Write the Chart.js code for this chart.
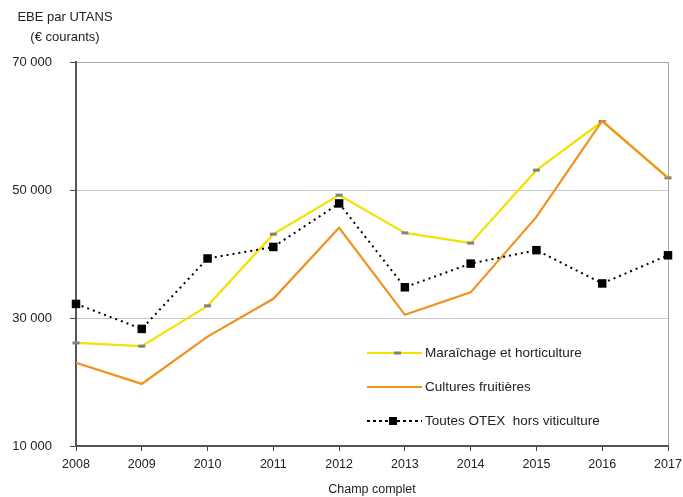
<!DOCTYPE html>
<html>
<head>
<meta charset="utf-8">
<script src="https://cdn.jsdelivr.net/npm/chart.js@4/dist/chart.umd.min.js"></script>
<style>
  html, body { margin: 0; padding: 0; background: #fff; }
  #wrap { width: 683px; height: 497px; }
</style>
</head>
<body>
<div id="wrap"><canvas id="graphique"></canvas></div>
<script>
// ─── Données ──────────────────────────────────────────────────────
const annees = ['2008', '2009', '2010', '2011', '2012', '2013', '2014', '2015', '2016', '2017']
const maraichage = [26100, 25600, 31900, 43100, 49200, 43300, 41700, 53100, 60700, 51900]
const fruitieres = [23000, 19700, 27100, 33000, 44100, 30500, 34000, 45800, 60800, 51900]
const toutesOtex = [32200, 28300, 39300, 41100, 47900, 34800, 38500, 40600, 35400, 39800]
const ticksY = [10000, 30000, 50000, 70000]

const JAUNE = '#f2e200'
const ORANGE = '#f0921e'
const POLICE = 'Liberation Sans, Arial, sans-serif'

const fmt = v => String(v).replace(/\B(?=(\d{3})+(?!\d))/g, ' ')

// ─── Titre + légende dessinés à la main ───────────────────────────
const decor = {
    id: 'decor',
    afterDraw(chart) {
        const ctx = chart.ctx
        ctx.save()
        ctx.fillStyle = '#222'
        ctx.font = '13px ' + POLICE
        ctx.textAlign = 'center'
        ctx.textBaseline = 'middle'
        ctx.fillText('EBE par UTANS', 65, 17)
        ctx.fillText('(€ courants)', 65, 37)

        // légende
        const x0 = 367, x1 = 422
        const lignes = [
            { y: 353, texte: 'Maraîchage et horticulture' },
            { y: 387, texte: 'Cultures fruitières' },
            { y: 421, texte: 'Toutes OTEX  hors viticulture' }
        ]
        // 1. maraîchage
        ctx.strokeStyle = JAUNE
        ctx.lineWidth = 2.2
        ctx.beginPath(); ctx.moveTo(x0, lignes[0].y); ctx.lineTo(x1, lignes[0].y); ctx.stroke()
        ctx.fillStyle = '#808080'
        ctx.fillRect(394, lignes[0].y - 1.5, 7, 3)
        // 2. fruitières
        ctx.strokeStyle = ORANGE
        ctx.beginPath(); ctx.moveTo(x0, lignes[1].y); ctx.lineTo(x1, lignes[1].y); ctx.stroke()
        // 3. toutes OTEX
        ctx.strokeStyle = '#000'
        ctx.lineWidth = 2
        ctx.setLineDash([3, 3])
        ctx.beginPath(); ctx.moveTo(x0, lignes[2].y); ctx.lineTo(x1, lignes[2].y); ctx.stroke()
        ctx.setLineDash([])
        ctx.fillStyle = '#000'
        ctx.fillRect(389, lignes[2].y - 4, 8, 8)

        ctx.fillStyle = '#222'
        ctx.font = '13.5px ' + POLICE
        ctx.textAlign = 'left'
        lignes.forEach(l => ctx.fillText(l.texte, 425, l.y))
        ctx.restore()
    }
}

new Chart(document.getElementById('graphique'), {
    type: 'line',
    data: {
        labels: annees,
        datasets: [
            {
                label: 'Maraîchage et horticulture',
                data: maraichage,
                borderColor: JAUNE,
                borderWidth: 2.2,
                pointStyle: 'line',
                pointRadius: 3.5,
                pointBorderWidth: 3,
                pointBorderColor: '#808080',
                pointBackgroundColor: '#808080',
                tension: 0,
                order: 2
            },
            {
                label: 'Cultures fruitières',
                data: fruitieres,
                borderColor: ORANGE,
                borderWidth: 2.2,
                pointRadius: 0,
                tension: 0,
                order: 1
            },
            {
                label: 'Toutes OTEX hors viticulture',
                data: toutesOtex,
                borderColor: '#000',
                borderWidth: 2,
                borderDash: [2, 4],
                pointStyle: 'rect',
                pointRadius: 6,
                pointBackgroundColor: '#000',
                pointBorderColor: '#000',
                pointBorderWidth: 0,
                tension: 0,
                order: 0
            }
        ]
    },
    options: {
        responsive: true,
        maintainAspectRatio: false,
        animation: false,
        events: [],
        layout: { padding: { left: 0, right: 15, top: 62, bottom: 0 } },
        plugins: {
            legend: { display: false },
            tooltip: { enabled: false }
        },
        scales: {
            x: {
                offset: false,
                afterFit(scale) {
                    scale.height = 51
                    scale.paddingLeft = 0
                    scale.paddingRight = 0
                },
                grid: {
                    color: c => c.index === annees.length - 1 ? '#a6a6a6' : 'rgba(0,0,0,0)',
                    tickColor: '#444',
                    tickLength: 5,
                    lineWidth: 1
                },
                border: { color: '#555', width: 2 },
                ticks: {
                    color: '#222',
                    font: { family: POLICE, size: 12.5 },
                    padding: 6,
                    maxRotation: 0,
                    autoSkip: false
                },
                title: {
                    display: true,
                    text: 'Champ complet',
                    color: '#222',
                    font: { family: POLICE, size: 12.5 },
                    padding: { top: 4, bottom: 0 }
                }
            },
            y: {
                min: ticksY[0],
                max: ticksY[ticksY.length - 1],
                afterFit(scale) { scale.width = 76 },
                afterBuildTicks(scale) { scale.ticks = ticksY.map(v => ({ value: v })) },
                grid: {
                    color: c => {
                        const v = c.tick && c.tick.value
                        if (v === 30000 || v === 50000) return '#c8c8c8'
                        if (v === 70000) return '#a6a6a6'
                        return 'rgba(0,0,0,0)'
                    },
                    tickColor: '#444',
                    tickLength: 6,
                    lineWidth: 1
                },
                border: { color: '#555', width: 2 },
                ticks: {
                    color: '#222',
                    font: { family: POLICE, size: 13 },
                    padding: 18,
                    callback: v => fmt(v)
                }
            }
        }
    },
    plugins: [decor]
})
</script>
</body>
</html>
